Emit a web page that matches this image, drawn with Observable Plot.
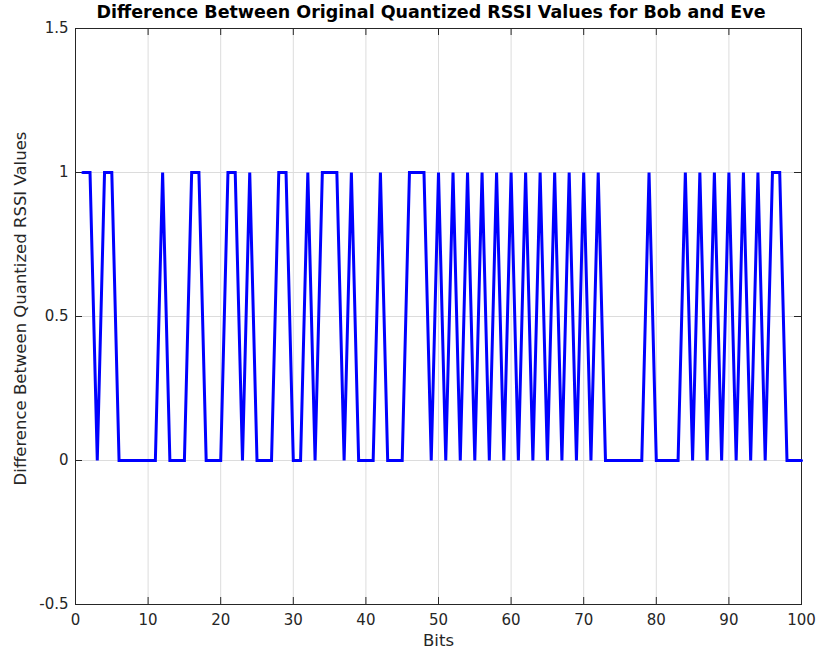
<!DOCTYPE html>
<html>
<head>
<meta charset="utf-8">
<script src="https://cdn.jsdelivr.net/npm/d3@7"></script>
<script src="https://cdn.jsdelivr.net/npm/@observablehq/plot@0.6"></script>
<style>
  body { margin: 0; background: #fff; font-family: "DejaVu Sans", sans-serif; }
  #wrap { position: relative; width: 818px; height: 653px; }
  #title { position: absolute; left: 0; width: 862px; text-align: center; top: 1px;
    font-weight: bold; font-size: 17.5px; line-height: 22px; color: #000; white-space: nowrap; z-index: 2; }
  #chart { position: absolute; left: 0; top: 0; }
</style>
</head>
<body>
<div id="wrap">
<div id="chart"></div>
<div id="title">Difference Between Original Quantized RSSI Values for Bob and Eve</div>
</div>
<script>
const bits = d3.range(1, 101);
const diffValues = [
  1,1,0,1,1,0,0,0,0,0,
  0,1,0,0,0,1,1,0,0,0,
  1,1,0,1,0,0,0,1,1,0,
  0,1,0,1,1,1,0,1,0,0,
  0,1,0,0,0,1,1,1,0,1,
  0,1,0,1,0,1,0,1,0,1,
  0,1,0,1,0,1,0,1,0,1,
  0,1,0,0,0,0,0,0,1,0,
  0,0,0,1,0,1,0,1,0,1,
  0,1,0,1,0,1,1,0,0,0
];
const xTicks = [0,10,20,30,40,50,60,70,80,90,100];
const yTicks = [-0.5,0,0.5,1,1.5];
const yTickLabels = ["-0.5","0","0.5","1","1.5"];

const data = bits.map((b, i) => ({bit: b, diff: diffValues[i]}));

const W = 818, H = 653;
const mt = 28, mb = 49, ml = 75, mr = 17;
const pxPerY = (H - mt - mb) / 2;
const pxPerX = (W - ml - mr) / 100;
const tickLenY = 7 / pxPerY;
const tickLenX = 7 / pxPerX;
const axisColor = "#262626";

const chart = Plot.plot({
  width: W, height: H,
  marginTop: mt, marginBottom: mb, marginLeft: ml, marginRight: mr,
  style: {fontFamily: "DejaVu Sans", fontSize: "15px", color: axisColor, background: "#fff"},
  x: {domain: [0, 100], ticks: xTicks},
  y: {domain: [-0.5, 1.5], ticks: yTicks},
  marks: [
    Plot.gridX(xTicks.slice(1, -1), {stroke: "#dcdcdc", strokeOpacity: 1}),
    Plot.gridY(yTicks.slice(1, -1), {stroke: "#dcdcdc", strokeOpacity: 1}),
    Plot.ruleX(xTicks, {x: d => d, y1: -0.5, y2: -0.5 + tickLenY, stroke: axisColor}),
    Plot.ruleX(xTicks, {x: d => d, y1: 1.5, y2: 1.5 - tickLenY, stroke: axisColor}),
    Plot.ruleY(yTicks, {y: d => d, x1: 0, x2: tickLenX, stroke: axisColor}),
    Plot.ruleY(yTicks, {y: d => d, x1: 100, x2: 100 - tickLenX, stroke: axisColor}),
    Plot.frame({stroke: axisColor, strokeWidth: 1}),
    Plot.lineY(data, {x: "bit", y: "diff", stroke: "#0000ff", strokeWidth: 3, strokeLinejoin: "miter", strokeMiterlimit: 10}),
    Plot.axisX(xTicks, {anchor: "bottom", tickSize: 0, tickPadding: 10, fontSize: 15, label: null}),
    Plot.axisY(yTicks, {anchor: "left", tickSize: 0, tickPadding: 7, fontSize: 15, tickFormat: (d, i) => yTickLabels[i], label: null}),
    Plot.text(["Bits"], {frameAnchor: "bottom", dy: 36, fontSize: 16.5, fill: axisColor, lineAnchor: "middle"}),
    Plot.text(["Difference Between Quantized RSSI Values"], {frameAnchor: "left", dx: -55, dy: -8, rotate: -90, fontSize: 16.5, fill: axisColor, textAnchor: "middle"})
  ]
});
document.getElementById("chart").appendChild(chart);
</script>
</body>
</html>
